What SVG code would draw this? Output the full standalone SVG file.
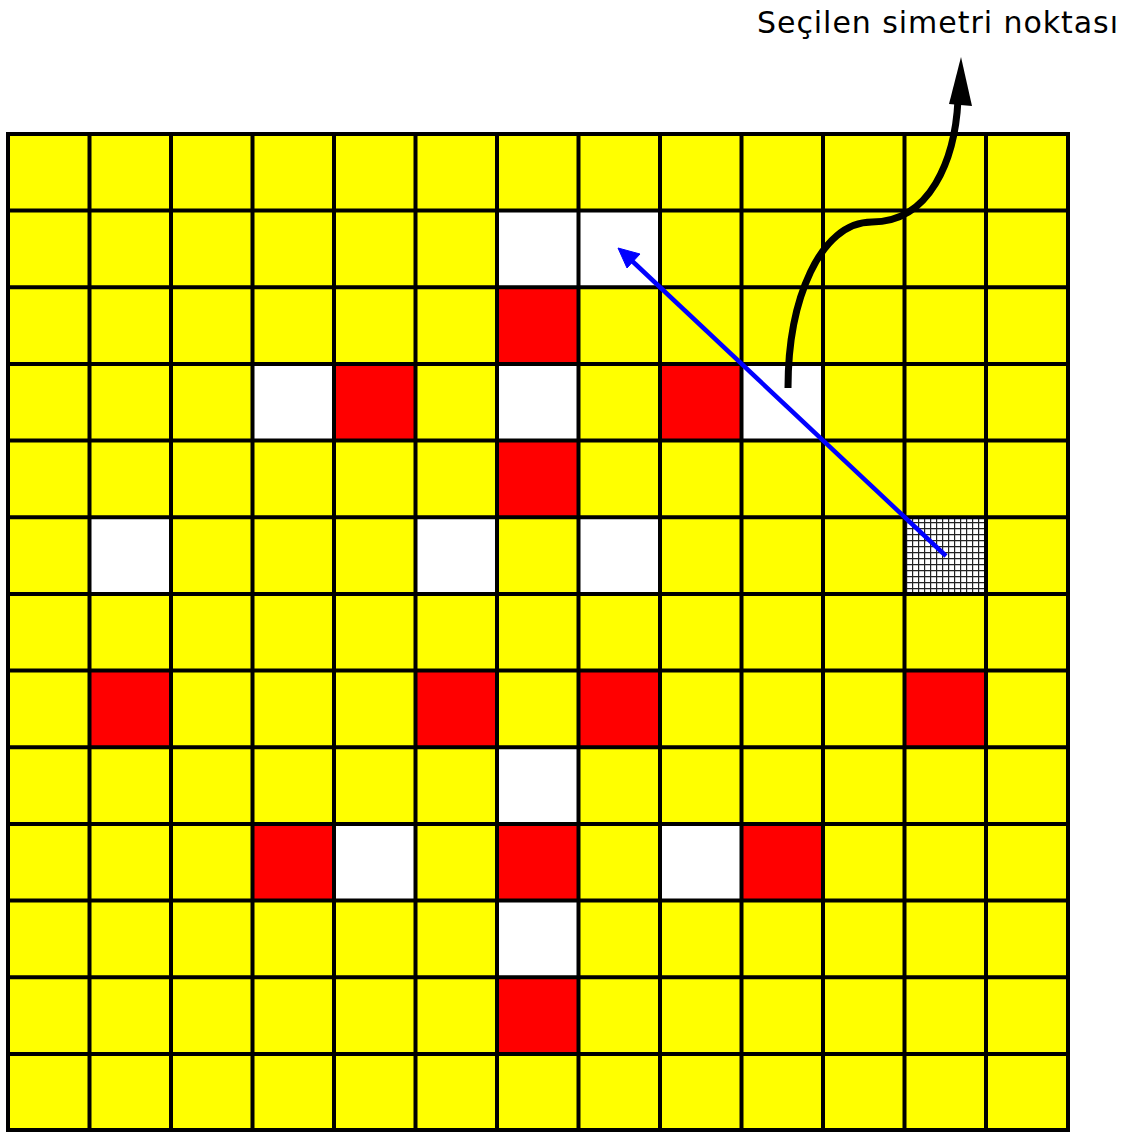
<svg xmlns="http://www.w3.org/2000/svg" width="1125" height="1133" viewBox="0 0 1125 1133">
<style>
.y{fill:#FFFF00}.r{fill:#FF0000}.w{fill:#FFFFFF}
.g{stroke:#000;stroke-width:4;fill:none}
.t{font-family:"DejaVu Sans",Verdana,sans-serif;font-size:30px;fill:#000}
</style>
<defs>
<pattern id="hatch" width="6" height="6" patternUnits="userSpaceOnUse" x="0" y="0">
<rect width="6" height="6" fill="#fff"/>
<path d="M0,0.5H6M0.5,0V6" stroke="#222" stroke-width="1.4"/>
</pattern>
</defs>
<rect width="1125" height="1133" fill="#fff"/>
<g id="grid">
<rect x="8" y="134" width="1060" height="996" class="y"/>
<g id="cells">
<rect x="497" y="211" width="82" height="77" class="w"/>
<rect x="579" y="211" width="82" height="77" class="w"/>
<rect x="497" y="288" width="82" height="77" class="r"/>
<rect x="252" y="364" width="82" height="77" class="w"/>
<rect x="334" y="364" width="82" height="77" class="r"/>
<rect x="497" y="364" width="82" height="77" class="w"/>
<rect x="660" y="364" width="82" height="77" class="r"/>
<rect x="742" y="364" width="82" height="77" class="w"/>
<rect x="497" y="441" width="82" height="77" class="r"/>
<rect x="89" y="518" width="82" height="77" class="w"/>
<rect x="415" y="518" width="82" height="77" class="w"/>
<rect x="579" y="518" width="82" height="77" class="w"/>
<rect x="905" y="518" width="82" height="77" fill="url(#hatch)"/>
<rect x="89" y="671" width="82" height="77" class="r"/>
<rect x="415" y="671" width="82" height="77" class="r"/>
<rect x="579" y="671" width="82" height="77" class="r"/>
<rect x="905" y="671" width="82" height="77" class="r"/>
<rect x="497" y="748" width="82" height="77" class="w"/>
<rect x="252" y="825" width="82" height="77" class="r"/>
<rect x="334" y="825" width="82" height="77" class="w"/>
<rect x="497" y="825" width="82" height="77" class="r"/>
<rect x="660" y="825" width="82" height="77" class="w"/>
<rect x="742" y="825" width="82" height="77" class="r"/>
<rect x="497" y="902" width="82" height="77" class="w"/>
<rect x="497" y="979" width="82" height="77" class="r"/>
</g>
<path class="g" d="M8,134V1130M89.5,134V1130M171,134V1130M252.5,134V1130M334,134V1130M415.5,134V1130M497,134V1130M578.5,134V1130M660,134V1130M741.5,134V1130M823,134V1130M904.5,134V1130M986,134V1130M1068,134V1130"/>
<path class="g" d="M6,134H1070M6,210.6H1070M6,287.2H1070M6,364H1070M6,440.6H1070M6,517.2H1070M6,594H1070M6,670.6H1070M6,747.2H1070M6,824H1070M6,900.6H1070M6,977.2H1070M6,1054H1070M6,1130H1070"/>
</g>
<g id="connectors">
<line x1="946" y1="556" x2="630" y2="259" stroke="#0000FF" stroke-width="4.5"/>
<polygon points="618,248 640,254 627,268" fill="#0000FF" stroke="#0000FF" stroke-width="1"/>
<path d="M788,388 C788,300 820,222 872,222 C930,222 955,160 958,100" fill="none" stroke="#000" stroke-width="7"/>
<polygon points="961,57 972,106 949,104" fill="#000"/>
</g>
<text class="t" x="757" y="33" textLength="361" lengthAdjust="spacing">Seçilen simetri noktası</text>
</svg>
